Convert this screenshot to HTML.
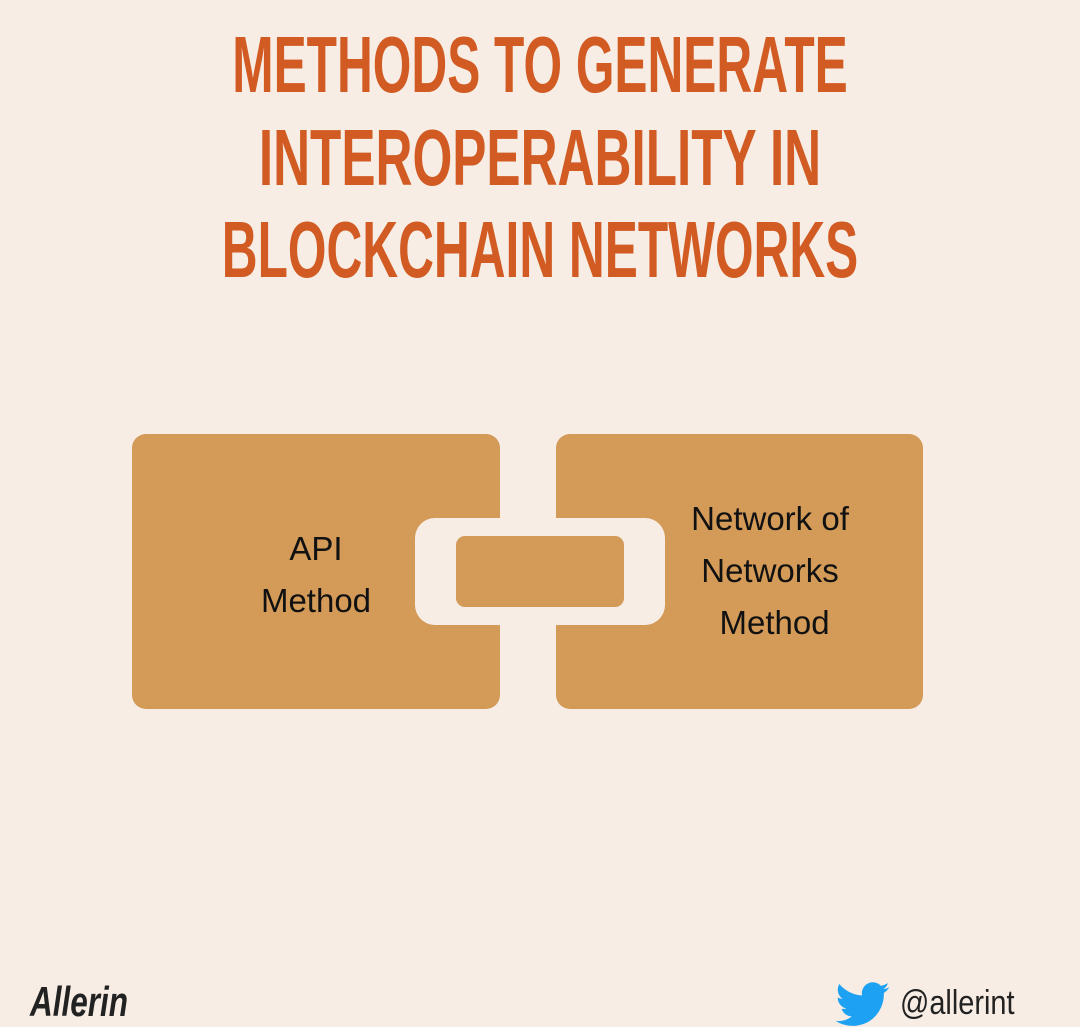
<!DOCTYPE html>
<html><head><style>
body{margin:0;width:1080px;height:1020px;background:#f7ede4;position:relative;overflow:hidden;font-family:"Liberation Sans",sans-serif}
.t{position:absolute;left:540px;color:#d15b23;font-weight:bold;font-size:80px;line-height:80px;white-space:nowrap;transform:translateX(-50%) scaleX(0.62)}
.box{position:absolute;background:#d39a58;border-radius:14px}
.lbl{position:absolute;color:#111;font-size:33px;line-height:52px;text-align:center}
</style></head><body>
<div class="t" style="top:25px">METHODS TO GENERATE</div>
<div class="t" style="top:118px;transform:translateX(-50%) scaleX(0.64)">INTEROPERABILITY IN</div>
<div class="t" style="top:210px">BLOCKCHAIN NETWORKS</div>
<div class="box" style="left:132px;top:434px;width:368px;height:275px"></div>
<div class="box" style="left:556px;top:434px;width:367px;height:275px"></div>
<div style="position:absolute;left:415px;top:518px;width:250px;height:107px;background:#f7ede4;border-radius:20px"></div>
<div class="box" style="left:456px;top:536px;width:168px;height:71px;border-radius:9px"></div>
<div class="lbl" style="left:216px;top:523px;width:200px">API<br>Method</div>
<div class="lbl" style="left:660px;top:493px;width:220px">Network of<br>Networks<br>&nbsp;Method</div>
<div style="position:absolute;left:30px;top:978px;font-size:42px;font-style:italic;font-weight:bold;color:#222;transform:scaleX(0.75);transform-origin:left">Allerin</div>
<svg style="position:absolute;left:835px;top:982px" width="55" height="45" viewBox="0 0 24 20"><path fill="#1da1f2" d="M24 2.4a10 10 0 0 1-2.8.8A5 5 0 0 0 23.3.5a10 10 0 0 1-3.1 1.2A4.9 4.9 0 0 0 11.8 6 14 14 0 0 1 1.7.9a4.9 4.9 0 0 0 1.5 6.6A4.900 4.900 0 0 1 1 6.9 4.900 4.900 0 0 0 4.900 11.800 4.900 4.900 0 0 1 2.700 11.900 4.900 4.900 0 0 0 7.300 15.300 9.900 9.900 0 0 1 0 17.300 14 14 0 0 0 7.500 19.500c9.100 0 14-7.500 14-14v-.6A10 10 0 0 0 24 2.400z"/></svg>
<div style="position:absolute;left:900px;top:984px;font-size:34px;color:#222;transform:scaleX(0.85);transform-origin:left">@allerint</div>
</body></html>
